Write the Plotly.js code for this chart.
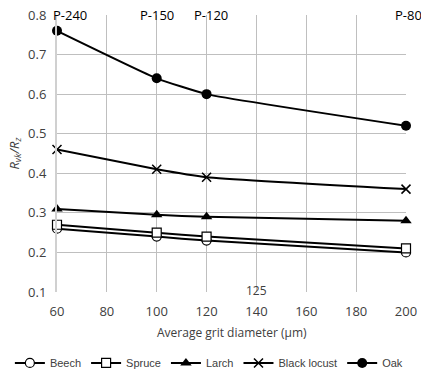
<!DOCTYPE html>
<html><head><meta charset="utf-8">
<script src="https://cdn.plot.ly/plotly-3.0.1.min.js"></script>
<style>html,body{margin:0;padding:0;background:#fff}#c{width:421px;height:382px}</style>
</head><body><div id="c"></div>
<script>
const grit = [60, 100, 120, 200];
const beech = [0.26, 0.24, 0.23, 0.20];
const spruce = [0.27, 0.25, 0.24, 0.21];
const larch = [0.31, 0.295, 0.29, 0.28];
const blackLocust = [0.46, 0.41, 0.39, 0.36];
const oak = [0.76, 0.64, 0.60, 0.52];
const paperLabels = ['P-240', 'P-150', 'P-120', 'P-80'];

const FF = 'Open Sans, Liberation Sans, sans-serif';
const tf = {family: FF, size: 13, color: '#404040'};
function tr(name, y, sym, size, fill, lw) {
  return {x: grit, y: y, name: name, type: 'scatter', mode: 'lines+markers', cliponaxis: false,
    line: {color: '#000', width: 2, shape: 'spline', smoothing: 0.4},
    marker: {symbol: sym, size: size, color: fill, line: {color: '#000', width: lw}}};
}
const data = [
  tr('Beech', beech, 'circle', 9, '#fff', 1.2),
  tr('Spruce', spruce, 'square', 9, '#fff', 1.2),
  tr('Larch', larch, 'triangle-up', 10, '#000', 0),
  tr('Black locust', blackLocust, 'x-thin', 9, '#000', 1.5),
  tr('Oak', oak, 'circle', 10, '#000', 0)
];
const anchors = ['left', 'center', 'center', 'left'];
const shifts = [-6, 0, 4, -13];
const ann = paperLabels.map((t, i) => ({x: grit[i], y: 0.8, xref: 'x', yref: 'y', text: t,
  showarrow: false, yanchor: 'middle', xanchor: anchors[i], xshift: shifts[i],
  font: {family: FF, size: 13, color: '#000'}}));
ann.push({x: 140, y: 0.1, xref: 'x', yref: 'y', text: '125', showarrow: false, yanchor: 'middle',
  yshift: 2, font: {family: FF, size: 12, color: '#404040'}});
ann.push({x: 0.5, y: -0.148, xref: 'paper', yref: 'paper', text: 'Average grit diameter (µm)',
  showarrow: false, xanchor: 'center', yanchor: 'middle', font: {family: FF, size: 12, color: '#404040'}});
const layout = {
  width: 421, height: 382, margin: {l: 57, r: 15, t: 15, b: 90, autoexpand: false},
  paper_bgcolor: '#fff', plot_bgcolor: '#fff', showlegend: true,
  xaxis: {range: [60, 200], dtick: 20, tick0: 60, showgrid: true, gridcolor: '#bfbfbf', gridwidth: 1,
    zeroline: false, showline: false, ticks: '', tickfont: tf, ticklabelstandoff: 10},
  yaxis: {range: [0.1, 0.8], dtick: 0.1, tick0: 0.1, showgrid: true, gridcolor: '#bfbfbf', gridwidth: 1,
    zeroline: false, showline: true, linecolor: '#d0d0d0', linewidth: 2, ticks: '', tickfont: tf,
    ticklabelstandoff: 6,
    title: {text: '<i>R<sub>vk</sub>/R<sub>z</sub></i>', font: {family: FF, size: 13, color: '#404040'}, standoff: 6}},
  legend: {orientation: 'h', x: -0.135, xref: 'paper', xanchor: 'left', y: -0.256, yref: 'paper', yanchor: 'middle',
    font: {family: 'Liberation Sans, Arial, sans-serif', size: 11, color: '#404040'}, itemwidth: 30, tracegroupgap: 0},
  annotations: ann
};
Plotly.newPlot('c', data, layout, {displayModeBar: false, staticPlot: true});
</script></body></html>
